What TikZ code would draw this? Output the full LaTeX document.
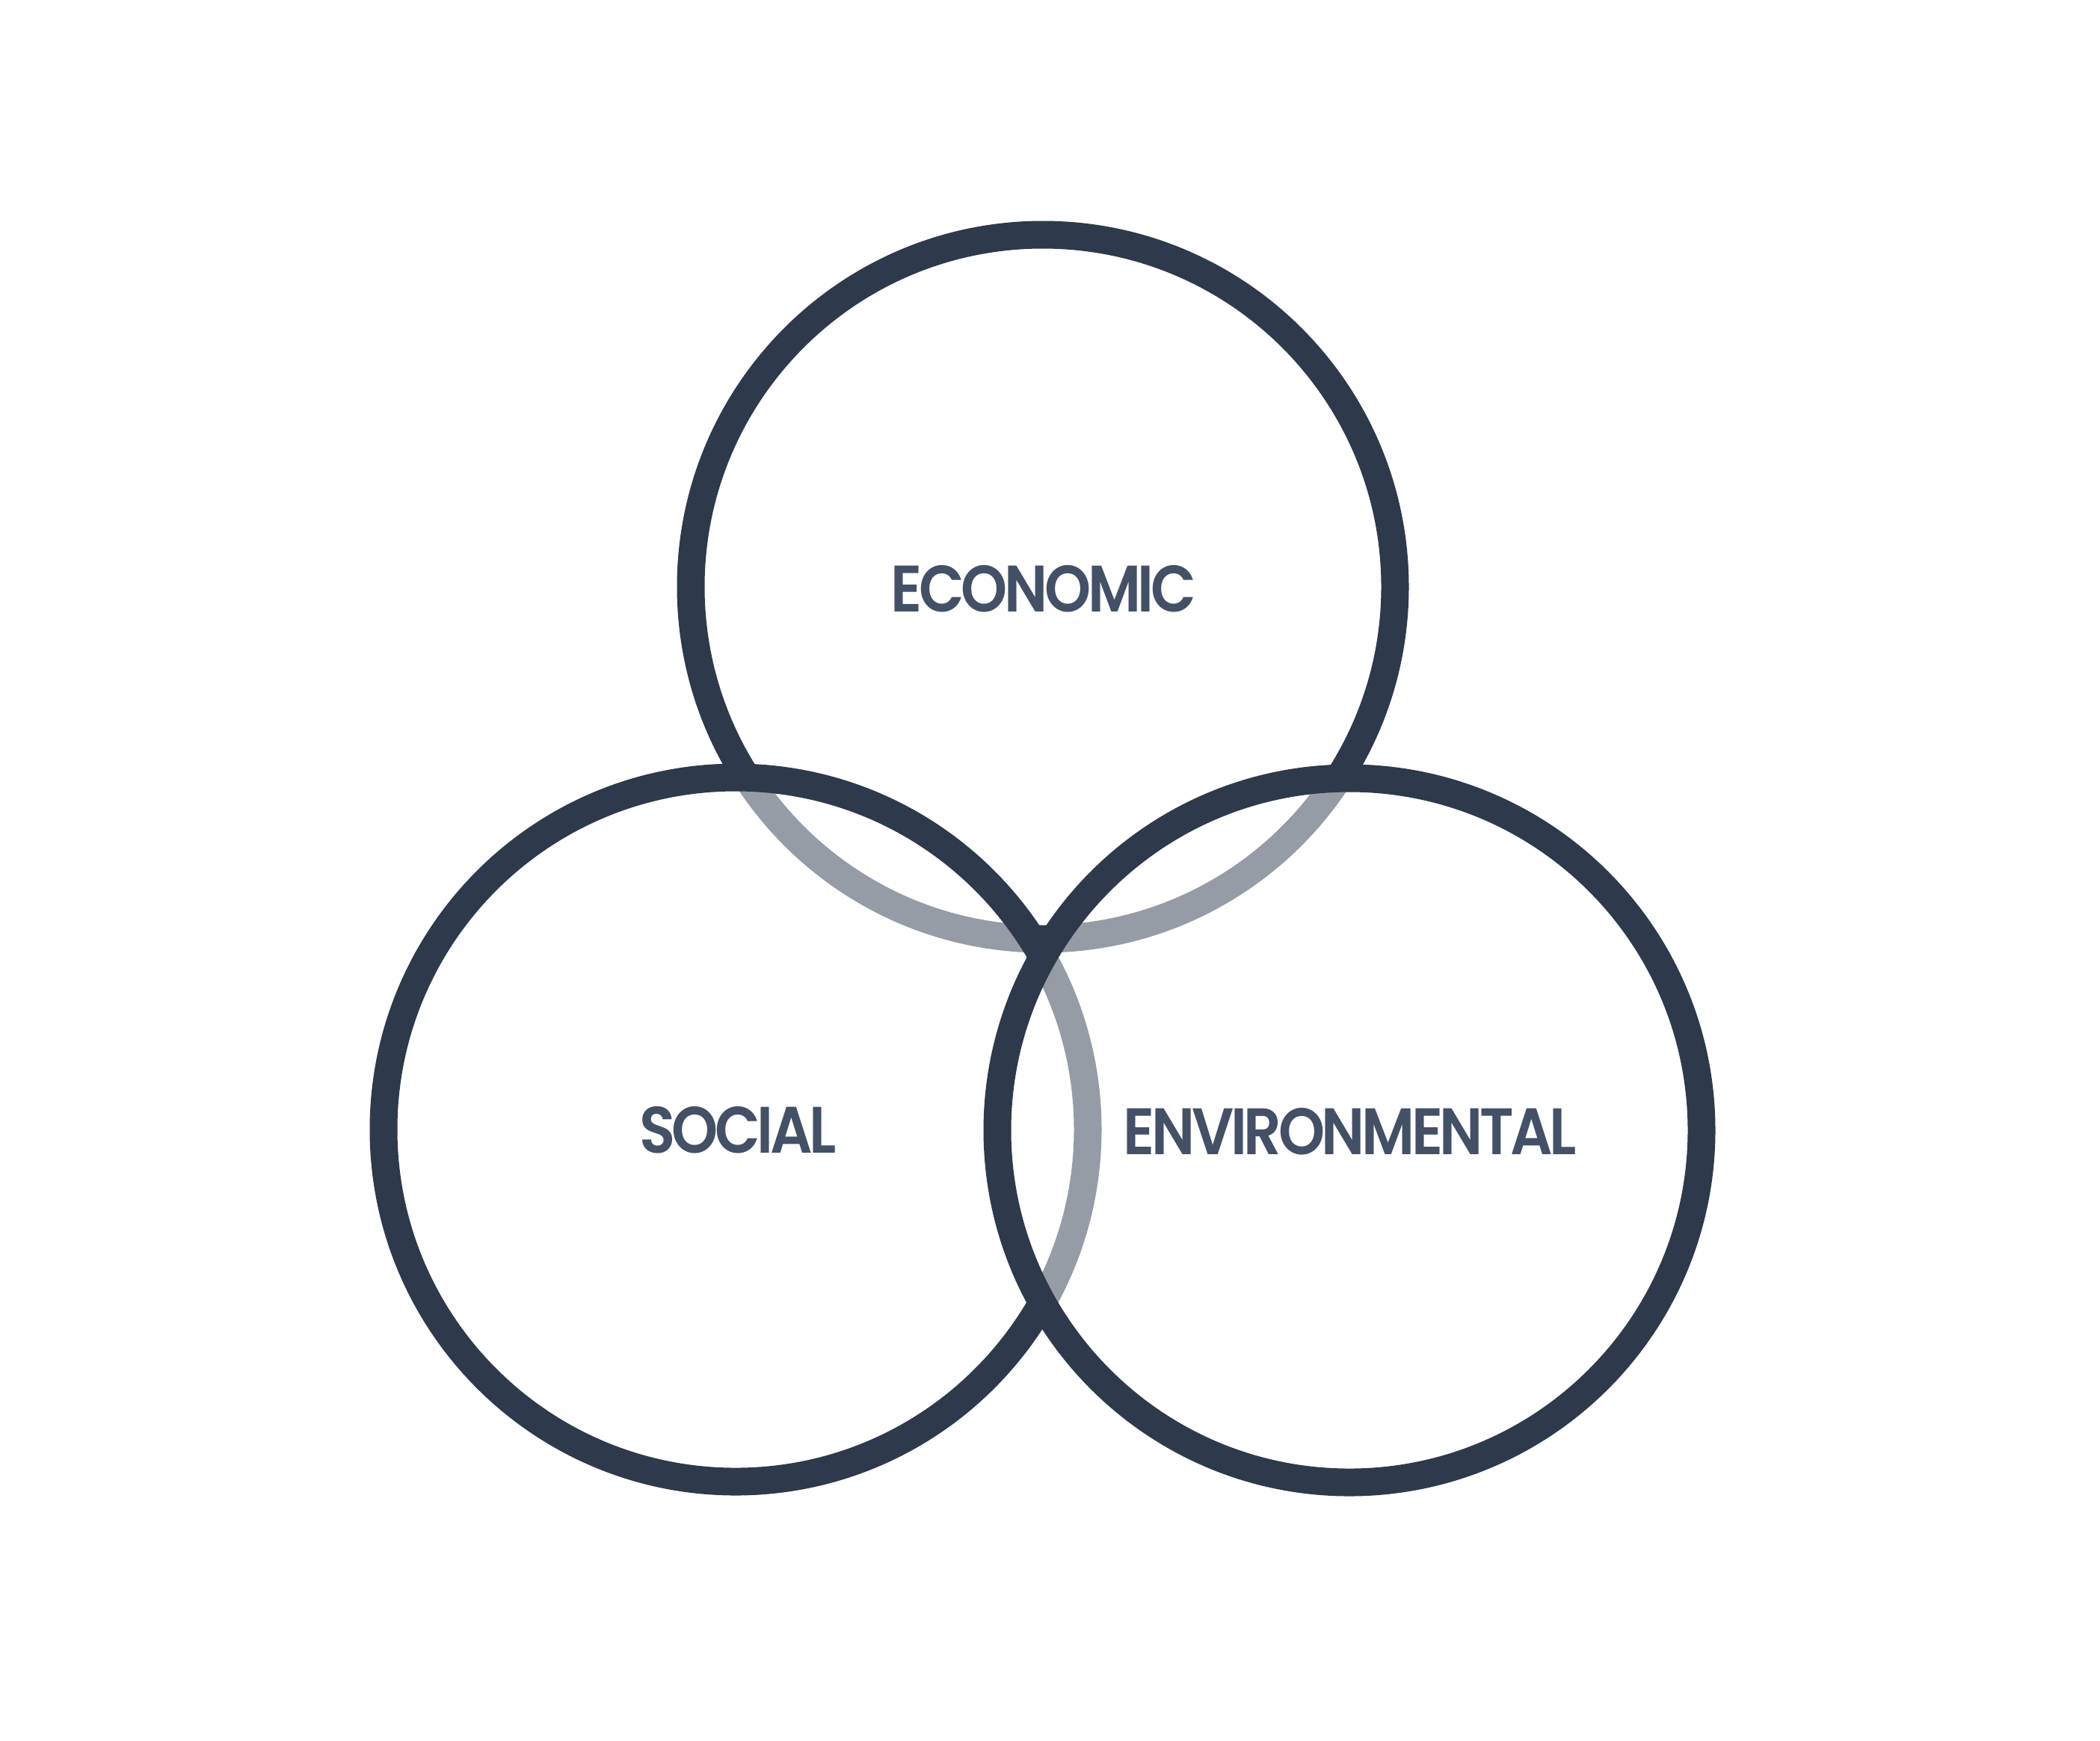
\documentclass[tikz,border=0pt]{standalone}
\usepackage{fontspec}
\newfontfamily\labelfont{Poppins}[BoldFont={Poppins SemiBold}, FakeStretch=0.9, LetterSpace=-5]
\definecolor{ringdark}{HTML}{2E394B}
\definecolor{labeltext}{HTML}{435066}
\begin{document}
\begin{tikzpicture}[
  ring/.style={circle, draw=ringdark, line width=0.37cm, fill=white, fill opacity=0.5, draw opacity=1, minimum size=9.42cm, inner sep=0pt, outer sep=0pt},
  lbl/.style={text=labeltext, font=\labelfont\bfseries\fontsize{25}{29}\selectfont, inner sep=0pt}
]
\useasboundingbox[fill=white] (0,0) rectangle (28.09,-23.28);
\node[ring] (econ) at (13.95,-7.85) {};
\node[ring] (social) at (9.84,-15.11) {};
\node[ring] (env) at (18.05,-15.12) {};
\node[lbl] (econlbl) at (13.96,-7.88) {ECONOMIC};
\node[lbl] (sociallbl) at (9.87,-15.12) {SOCIAL};
\node[lbl] (envlbl) at (18.06,-15.14) {ENVIRONMENTAL};
\end{tikzpicture}
\end{document}
